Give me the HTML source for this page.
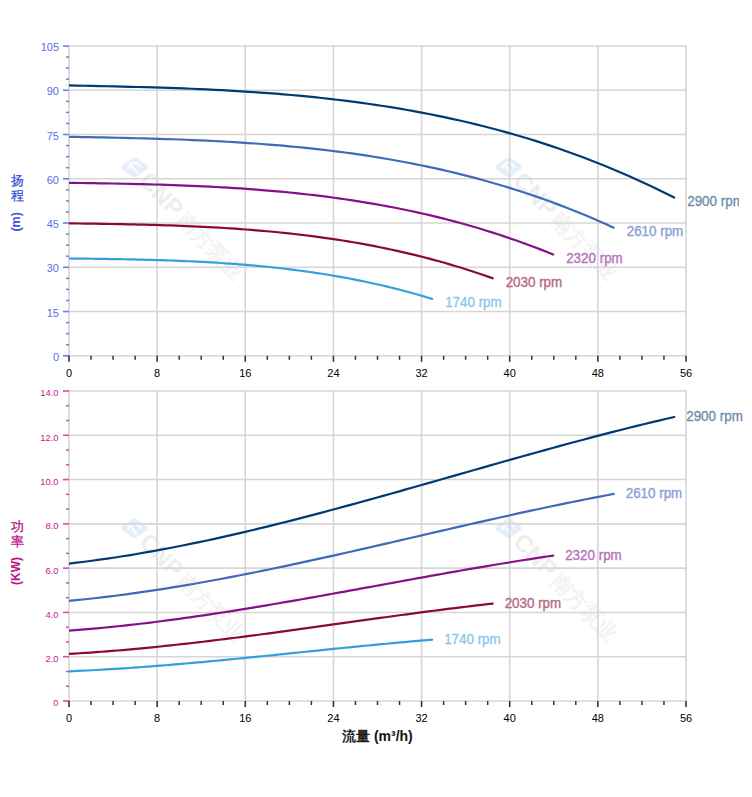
<!DOCTYPE html>
<html><head><meta charset="utf-8"><style>
html,body{margin:0;padding:0;background:#fff;width:752px;height:797px;overflow:hidden}
svg{display:block}
text{font-family:"Liberation Sans",sans-serif}
</style></head><body>
<svg width="752" height="797" viewBox="0 0 752 797">
<defs>
<clipPath id="ct"><rect x="69" y="0" width="683" height="797"/></clipPath>
<clipPath id="cl"><rect x="0" y="0" width="739" height="380"/></clipPath>
</defs>
<rect width="752" height="797" fill="#fff"/>

<path d="M124.5 167.3 L134.5 160.3 L144.5 167.3 L134.5 174.3 Z" fill="#e6eff9" stroke="#e6eff9" stroke-width="6" stroke-linejoin="round"/><path d="M128.5 167.8 A6 6 0 0 1 140.0 166.8 M131.0 165.8 L136.5 172.3" fill="none" stroke="#fbfdff" stroke-width="2.2" stroke-linecap="round"/><g transform="translate(135.0 166.8) rotate(46)"><text x="13" y="8.5" font-size="24" font-weight="bold" fill="#eeeeee">CNP</text><text x="67" y="8" font-size="21" font-weight="bold" fill="#f3f3f3">南方泵业</text></g>
<path d="M498.5 167.3 L508.5 160.3 L518.5 167.3 L508.5 174.3 Z" fill="#e6eff9" stroke="#e6eff9" stroke-width="6" stroke-linejoin="round"/><path d="M502.5 167.8 A6 6 0 0 1 514.0 166.8 M505.0 165.8 L510.5 172.3" fill="none" stroke="#fbfdff" stroke-width="2.2" stroke-linecap="round"/><g transform="translate(509.0 166.8) rotate(46)"><text x="13" y="8.5" font-size="24" font-weight="bold" fill="#eeeeee">CNP</text><text x="67" y="8" font-size="21" font-weight="bold" fill="#f3f3f3">南方泵业</text></g>
<line x1="69.00" y1="45.20" x2="69.00" y2="355.80" stroke="#d6d6d6" stroke-width="1.6"/>
<line x1="157.14" y1="45.20" x2="157.14" y2="355.80" stroke="#d6d6d6" stroke-width="1.6"/>
<line x1="245.29" y1="45.20" x2="245.29" y2="355.80" stroke="#d6d6d6" stroke-width="1.6"/>
<line x1="333.43" y1="45.20" x2="333.43" y2="355.80" stroke="#d6d6d6" stroke-width="1.6"/>
<line x1="421.57" y1="45.20" x2="421.57" y2="355.80" stroke="#d6d6d6" stroke-width="1.6"/>
<line x1="509.71" y1="45.20" x2="509.71" y2="355.80" stroke="#d6d6d6" stroke-width="1.6"/>
<line x1="597.86" y1="45.20" x2="597.86" y2="355.80" stroke="#d6d6d6" stroke-width="1.6"/>
<line x1="686.00" y1="45.20" x2="686.00" y2="355.80" stroke="#d6d6d6" stroke-width="1.6"/>
<line x1="68.20" y1="355.80" x2="686.80" y2="355.80" stroke="#d6d6d6" stroke-width="1.6"/>
<line x1="68.20" y1="311.54" x2="686.80" y2="311.54" stroke="#d6d6d6" stroke-width="1.6"/>
<line x1="68.20" y1="267.29" x2="686.80" y2="267.29" stroke="#d6d6d6" stroke-width="1.6"/>
<line x1="68.20" y1="223.03" x2="686.80" y2="223.03" stroke="#d6d6d6" stroke-width="1.6"/>
<line x1="68.20" y1="178.77" x2="686.80" y2="178.77" stroke="#d6d6d6" stroke-width="1.6"/>
<line x1="68.20" y1="134.51" x2="686.80" y2="134.51" stroke="#d6d6d6" stroke-width="1.6"/>
<line x1="68.20" y1="90.26" x2="686.80" y2="90.26" stroke="#d6d6d6" stroke-width="1.6"/>
<line x1="68.20" y1="46.00" x2="686.80" y2="46.00" stroke="#d6d6d6" stroke-width="1.6"/>
<line x1="63" y1="355.80" x2="69" y2="355.80" stroke="#6a80e6" stroke-width="1.6"/>
<text transform="translate(59 360.96) scale(1 1)" font-size="11" fill="#5b6ee8" text-anchor="end">0</text>
<line x1="66" y1="344.74" x2="69" y2="344.74" stroke="#6a80e6" stroke-width="1.5"/>
<line x1="66" y1="333.67" x2="69" y2="333.67" stroke="#6a80e6" stroke-width="1.5"/>
<line x1="66" y1="322.61" x2="69" y2="322.61" stroke="#6a80e6" stroke-width="1.5"/>
<line x1="63" y1="311.54" x2="69" y2="311.54" stroke="#6a80e6" stroke-width="1.6"/>
<text transform="translate(59 316.70) scale(1 1)" font-size="11" fill="#5b6ee8" text-anchor="end">15</text>
<line x1="66" y1="300.48" x2="69" y2="300.48" stroke="#6a80e6" stroke-width="1.5"/>
<line x1="66" y1="289.41" x2="69" y2="289.41" stroke="#6a80e6" stroke-width="1.5"/>
<line x1="66" y1="278.35" x2="69" y2="278.35" stroke="#6a80e6" stroke-width="1.5"/>
<line x1="63" y1="267.29" x2="69" y2="267.29" stroke="#6a80e6" stroke-width="1.6"/>
<text transform="translate(59 272.45) scale(1 1)" font-size="11" fill="#5b6ee8" text-anchor="end">30</text>
<line x1="66" y1="256.22" x2="69" y2="256.22" stroke="#6a80e6" stroke-width="1.5"/>
<line x1="66" y1="245.16" x2="69" y2="245.16" stroke="#6a80e6" stroke-width="1.5"/>
<line x1="66" y1="234.09" x2="69" y2="234.09" stroke="#6a80e6" stroke-width="1.5"/>
<line x1="63" y1="223.03" x2="69" y2="223.03" stroke="#6a80e6" stroke-width="1.6"/>
<text transform="translate(59 228.19) scale(1 1)" font-size="11" fill="#5b6ee8" text-anchor="end">45</text>
<line x1="66" y1="211.96" x2="69" y2="211.96" stroke="#6a80e6" stroke-width="1.5"/>
<line x1="66" y1="200.90" x2="69" y2="200.90" stroke="#6a80e6" stroke-width="1.5"/>
<line x1="66" y1="189.84" x2="69" y2="189.84" stroke="#6a80e6" stroke-width="1.5"/>
<line x1="63" y1="178.77" x2="69" y2="178.77" stroke="#6a80e6" stroke-width="1.6"/>
<text transform="translate(59 183.93) scale(1 1)" font-size="11" fill="#5b6ee8" text-anchor="end">60</text>
<line x1="66" y1="167.71" x2="69" y2="167.71" stroke="#6a80e6" stroke-width="1.5"/>
<line x1="66" y1="156.64" x2="69" y2="156.64" stroke="#6a80e6" stroke-width="1.5"/>
<line x1="66" y1="145.58" x2="69" y2="145.58" stroke="#6a80e6" stroke-width="1.5"/>
<line x1="63" y1="134.51" x2="69" y2="134.51" stroke="#6a80e6" stroke-width="1.6"/>
<text transform="translate(59 139.67) scale(1 1)" font-size="11" fill="#5b6ee8" text-anchor="end">75</text>
<line x1="66" y1="123.45" x2="69" y2="123.45" stroke="#6a80e6" stroke-width="1.5"/>
<line x1="66" y1="112.39" x2="69" y2="112.39" stroke="#6a80e6" stroke-width="1.5"/>
<line x1="66" y1="101.32" x2="69" y2="101.32" stroke="#6a80e6" stroke-width="1.5"/>
<line x1="63" y1="90.26" x2="69" y2="90.26" stroke="#6a80e6" stroke-width="1.6"/>
<text transform="translate(59 95.42) scale(1 1)" font-size="11" fill="#5b6ee8" text-anchor="end">90</text>
<line x1="66" y1="79.19" x2="69" y2="79.19" stroke="#6a80e6" stroke-width="1.5"/>
<line x1="66" y1="68.13" x2="69" y2="68.13" stroke="#6a80e6" stroke-width="1.5"/>
<line x1="66" y1="57.06" x2="69" y2="57.06" stroke="#6a80e6" stroke-width="1.5"/>
<line x1="63" y1="46.00" x2="69" y2="46.00" stroke="#6a80e6" stroke-width="1.6"/>
<text transform="translate(59 51.16) scale(1 1)" font-size="11" fill="#5b6ee8" text-anchor="end">105</text>
<line x1="69.00" y1="355.80" x2="69.00" y2="361.80" stroke="#333" stroke-width="1.6"/>
<text x="69.00" y="376.80" font-size="11" fill="#000" text-anchor="middle">0</text>
<line x1="91.04" y1="355.80" x2="91.04" y2="359.80" stroke="#333" stroke-width="1.5"/>
<line x1="113.07" y1="355.80" x2="113.07" y2="359.80" stroke="#333" stroke-width="1.5"/>
<line x1="135.11" y1="355.80" x2="135.11" y2="359.80" stroke="#333" stroke-width="1.5"/>
<line x1="157.14" y1="355.80" x2="157.14" y2="361.80" stroke="#333" stroke-width="1.6"/>
<text x="157.14" y="376.80" font-size="11" fill="#000" text-anchor="middle">8</text>
<line x1="179.18" y1="355.80" x2="179.18" y2="359.80" stroke="#333" stroke-width="1.5"/>
<line x1="201.21" y1="355.80" x2="201.21" y2="359.80" stroke="#333" stroke-width="1.5"/>
<line x1="223.25" y1="355.80" x2="223.25" y2="359.80" stroke="#333" stroke-width="1.5"/>
<line x1="245.29" y1="355.80" x2="245.29" y2="361.80" stroke="#333" stroke-width="1.6"/>
<text x="245.29" y="376.80" font-size="11" fill="#000" text-anchor="middle">16</text>
<line x1="267.32" y1="355.80" x2="267.32" y2="359.80" stroke="#333" stroke-width="1.5"/>
<line x1="289.36" y1="355.80" x2="289.36" y2="359.80" stroke="#333" stroke-width="1.5"/>
<line x1="311.39" y1="355.80" x2="311.39" y2="359.80" stroke="#333" stroke-width="1.5"/>
<line x1="333.43" y1="355.80" x2="333.43" y2="361.80" stroke="#333" stroke-width="1.6"/>
<text x="333.43" y="376.80" font-size="11" fill="#000" text-anchor="middle">24</text>
<line x1="355.46" y1="355.80" x2="355.46" y2="359.80" stroke="#333" stroke-width="1.5"/>
<line x1="377.50" y1="355.80" x2="377.50" y2="359.80" stroke="#333" stroke-width="1.5"/>
<line x1="399.54" y1="355.80" x2="399.54" y2="359.80" stroke="#333" stroke-width="1.5"/>
<line x1="421.57" y1="355.80" x2="421.57" y2="361.80" stroke="#333" stroke-width="1.6"/>
<text x="421.57" y="376.80" font-size="11" fill="#000" text-anchor="middle">32</text>
<line x1="443.61" y1="355.80" x2="443.61" y2="359.80" stroke="#333" stroke-width="1.5"/>
<line x1="465.64" y1="355.80" x2="465.64" y2="359.80" stroke="#333" stroke-width="1.5"/>
<line x1="487.68" y1="355.80" x2="487.68" y2="359.80" stroke="#333" stroke-width="1.5"/>
<line x1="509.71" y1="355.80" x2="509.71" y2="361.80" stroke="#333" stroke-width="1.6"/>
<text x="509.71" y="376.80" font-size="11" fill="#000" text-anchor="middle">40</text>
<line x1="531.75" y1="355.80" x2="531.75" y2="359.80" stroke="#333" stroke-width="1.5"/>
<line x1="553.79" y1="355.80" x2="553.79" y2="359.80" stroke="#333" stroke-width="1.5"/>
<line x1="575.82" y1="355.80" x2="575.82" y2="359.80" stroke="#333" stroke-width="1.5"/>
<line x1="597.86" y1="355.80" x2="597.86" y2="361.80" stroke="#333" stroke-width="1.6"/>
<text x="597.86" y="376.80" font-size="11" fill="#000" text-anchor="middle">48</text>
<line x1="619.89" y1="355.80" x2="619.89" y2="359.80" stroke="#333" stroke-width="1.5"/>
<line x1="641.93" y1="355.80" x2="641.93" y2="359.80" stroke="#333" stroke-width="1.5"/>
<line x1="663.96" y1="355.80" x2="663.96" y2="359.80" stroke="#333" stroke-width="1.5"/>
<line x1="686.00" y1="355.80" x2="686.00" y2="361.80" stroke="#333" stroke-width="1.6"/>
<text x="686.00" y="376.80" font-size="11" fill="#000" text-anchor="middle">56</text>
<g clip-path="url(#ct)">
<path d="M69.00 85.47 L76.66 85.62 L84.32 85.77 L91.98 85.92 L99.64 86.08 L107.30 86.25 L114.97 86.42 L122.63 86.60 L130.29 86.79 L137.95 86.98 L145.61 87.20 L153.27 87.42 L160.93 87.66 L168.59 87.91 L176.25 88.18 L183.91 88.47 L191.57 88.77 L199.24 89.10 L206.90 89.45 L214.56 89.81 L222.22 90.21 L229.88 90.62 L237.54 91.07 L245.20 91.54 L252.86 92.04 L260.52 92.57 L268.18 93.13 L275.84 93.72 L283.51 94.34 L291.17 95.00 L298.83 95.69 L306.49 96.42 L314.15 97.19 L321.81 98.00 L329.47 98.84 L337.13 99.73 L344.79 100.66 L352.45 101.63 L360.11 102.65 L367.77 103.72 L375.44 104.83 L383.10 105.99 L390.76 107.20 L398.42 108.46 L406.08 109.77 L413.74 111.14 L421.40 112.56 L429.06 114.03 L436.72 115.57 L444.38 117.16 L452.04 118.80 L459.71 120.51 L467.37 122.28 L475.03 124.12 L482.69 126.01 L490.35 127.98 L498.01 130.00 L505.67 132.10 L513.33 134.26 L520.99 136.49 L528.65 138.80 L536.31 141.17 L543.98 143.62 L551.64 146.15 L559.30 148.75 L566.96 151.42 L574.62 154.18 L582.28 157.01 L589.94 159.92 L597.60 162.92 L605.26 165.99 L612.92 169.15 L620.58 172.40 L628.25 175.73 L635.91 179.15 L643.57 182.66 L651.23 186.26 L658.89 189.95 L666.55 193.73 L674.21 197.60" fill="none" stroke="#003a70" stroke-width="2.2" stroke-linecap="round" stroke-linejoin="round"/>
<path d="M69.00 136.84 L75.89 136.96 L82.79 137.08 L89.68 137.20 L96.58 137.33 L103.47 137.46 L110.37 137.60 L117.26 137.75 L124.16 137.90 L131.05 138.06 L137.95 138.23 L144.84 138.41 L151.74 138.60 L158.63 138.81 L165.53 139.03 L172.42 139.26 L179.32 139.51 L186.21 139.77 L193.11 140.05 L200.00 140.35 L206.90 140.67 L213.79 141.01 L220.69 141.37 L227.58 141.75 L234.48 142.15 L241.37 142.58 L248.26 143.03 L255.16 143.51 L262.05 144.02 L268.95 144.55 L275.84 145.11 L282.74 145.70 L289.63 146.32 L296.53 146.98 L303.42 147.66 L310.32 148.38 L317.21 149.14 L324.11 149.93 L331.00 150.75 L337.90 151.61 L344.79 152.51 L351.69 153.45 L358.58 154.43 L365.48 155.46 L372.37 156.52 L379.27 157.62 L386.16 158.77 L393.06 159.97 L399.95 161.21 L406.85 162.50 L413.74 163.83 L420.64 165.22 L427.53 166.65 L434.42 168.14 L441.32 169.67 L448.21 171.26 L455.11 172.90 L462.00 174.60 L468.90 176.35 L475.79 178.16 L482.69 180.03 L489.58 181.95 L496.48 183.94 L503.37 185.98 L510.27 188.09 L517.16 190.25 L524.06 192.48 L530.95 194.78 L537.85 197.14 L544.74 199.56 L551.64 202.06 L558.53 204.62 L565.43 207.25 L572.32 209.95 L579.22 212.71 L586.11 215.56 L593.01 218.47 L599.90 221.46 L606.79 224.52 L613.69 227.66" fill="none" stroke="#3f6ab8" stroke-width="2.2" stroke-linecap="round" stroke-linejoin="round"/>
<path d="M69.00 182.79 L75.13 182.89 L81.26 182.98 L87.39 183.08 L93.51 183.18 L99.64 183.29 L105.77 183.40 L111.90 183.51 L118.03 183.63 L124.16 183.76 L130.29 183.89 L136.42 184.04 L142.54 184.19 L148.67 184.35 L154.80 184.52 L160.93 184.71 L167.06 184.90 L173.19 185.11 L179.32 185.33 L185.45 185.57 L191.57 185.82 L197.70 186.09 L203.83 186.37 L209.96 186.67 L216.09 186.99 L222.22 187.33 L228.35 187.69 L234.48 188.07 L240.60 188.47 L246.73 188.89 L252.86 189.33 L258.99 189.80 L265.12 190.29 L271.25 190.81 L277.38 191.35 L283.51 191.92 L289.63 192.51 L295.76 193.13 L301.89 193.79 L308.02 194.47 L314.15 195.18 L320.28 195.92 L326.41 196.70 L332.53 197.50 L338.66 198.34 L344.79 199.22 L350.92 200.13 L357.05 201.07 L363.18 202.05 L369.31 203.07 L375.44 204.12 L381.56 205.22 L387.69 206.35 L393.82 207.52 L399.95 208.74 L406.08 209.99 L412.21 211.29 L418.34 212.63 L424.47 214.02 L430.59 215.44 L436.72 216.92 L442.85 218.44 L448.98 220.01 L455.11 221.62 L461.24 223.29 L467.37 225.00 L473.50 226.76 L479.62 228.57 L485.75 230.44 L491.88 232.35 L498.01 234.32 L504.14 236.35 L510.27 238.42 L516.40 240.56 L522.53 242.75 L528.65 244.99 L534.78 247.29 L540.91 249.65 L547.04 252.07 L553.17 254.55" fill="none" stroke="#84108a" stroke-width="2.2" stroke-linecap="round" stroke-linejoin="round"/>
<path d="M69.00 223.34 L74.36 223.41 L79.73 223.49 L85.09 223.56 L90.45 223.64 L95.81 223.72 L101.18 223.80 L106.54 223.89 L111.90 223.98 L117.26 224.08 L122.63 224.18 L127.99 224.29 L133.35 224.41 L138.71 224.53 L144.08 224.67 L149.44 224.81 L154.80 224.96 L160.16 225.12 L165.53 225.29 L170.89 225.47 L176.25 225.66 L181.62 225.86 L186.98 226.08 L192.34 226.31 L197.70 226.56 L203.07 226.82 L208.43 227.09 L213.79 227.38 L219.15 227.68 L224.52 228.01 L229.88 228.35 L235.24 228.70 L240.60 229.08 L245.97 229.48 L251.33 229.89 L256.69 230.33 L262.05 230.78 L267.42 231.26 L272.78 231.76 L278.14 232.28 L283.51 232.82 L288.87 233.39 L294.23 233.99 L299.59 234.60 L304.96 235.25 L310.32 235.92 L315.68 236.61 L321.04 237.33 L326.41 238.09 L331.77 238.86 L337.13 239.67 L342.49 240.51 L347.86 241.38 L353.22 242.28 L358.58 243.20 L363.94 244.17 L369.31 245.16 L374.67 246.19 L380.03 247.25 L385.40 248.34 L390.76 249.47 L396.12 250.63 L401.48 251.83 L406.85 253.07 L412.21 254.34 L417.57 255.65 L422.93 257.00 L428.30 258.39 L433.66 259.82 L439.02 261.29 L444.38 262.79 L449.75 264.34 L455.11 265.93 L460.47 267.57 L465.83 269.24 L471.20 270.96 L476.56 272.72 L481.92 274.53 L487.28 276.38 L492.65 278.28" fill="none" stroke="#8a0a34" stroke-width="2.2" stroke-linecap="round" stroke-linejoin="round"/>
<path d="M69.00 258.48 L73.60 258.54 L78.19 258.59 L82.79 258.64 L87.39 258.70 L91.98 258.76 L96.58 258.82 L101.18 258.89 L105.77 258.95 L110.37 259.03 L114.97 259.10 L119.56 259.18 L124.16 259.27 L128.75 259.36 L133.35 259.46 L137.95 259.56 L142.54 259.67 L147.14 259.79 L151.74 259.91 L156.33 260.05 L160.93 260.19 L165.53 260.34 L170.12 260.50 L174.72 260.67 L179.32 260.85 L183.91 261.04 L188.51 261.24 L193.11 261.45 L197.70 261.67 L202.30 261.91 L206.90 262.16 L211.49 262.42 L216.09 262.70 L220.69 262.99 L225.28 263.30 L229.88 263.61 L234.48 263.95 L239.07 264.30 L243.67 264.67 L248.26 265.05 L252.86 265.45 L257.46 265.87 L262.05 266.30 L266.65 266.76 L271.25 267.23 L275.84 267.72 L280.44 268.23 L285.04 268.76 L289.63 269.32 L294.23 269.89 L298.83 270.48 L303.42 271.10 L308.02 271.73 L312.62 272.39 L317.21 273.08 L321.81 273.78 L326.41 274.51 L331.00 275.27 L335.60 276.05 L340.20 276.85 L344.79 277.68 L349.39 278.53 L353.99 279.42 L358.58 280.32 L363.18 281.26 L367.77 282.22 L372.37 283.22 L376.97 284.23 L381.56 285.28 L386.16 286.36 L390.76 287.47 L395.35 288.61 L399.95 289.78 L404.55 290.98 L409.14 292.21 L413.74 293.47 L418.34 294.76 L422.93 296.09 L427.53 297.45 L432.13 298.85" fill="none" stroke="#33a0dc" stroke-width="2.2" stroke-linecap="round" stroke-linejoin="round"/>
</g>
<g clip-path="url(#cl)">
<text transform="translate(687.21 205.90) scale(1 1.08)" font-size="13.4" fill="#6f8faf" stroke="#6f8faf" stroke-width="0.35">2900 rpm</text>
<text transform="translate(626.69 235.96) scale(1 1.08)" font-size="13.4" fill="#8aa0d6" stroke="#8aa0d6" stroke-width="0.35">2610 rpm</text>
<text transform="translate(566.17 262.85) scale(1 1.08)" font-size="13.4" fill="#b573b9" stroke="#b573b9" stroke-width="0.35">2320 rpm</text>
<text transform="translate(505.65 286.58) scale(1 1.08)" font-size="13.4" fill="#b26a86" stroke="#b26a86" stroke-width="0.35">2030 rpm</text>
<text transform="translate(445.13 307.15) scale(1 1.08)" font-size="13.4" fill="#8ec6ec" stroke="#8ec6ec" stroke-width="0.35">1740 rpm</text>
</g>
<path d="M124.5 528.3 L134.5 521.3 L144.5 528.3 L134.5 535.3 Z" fill="#e6eff9" stroke="#e6eff9" stroke-width="6" stroke-linejoin="round"/><path d="M128.5 528.8 A6 6 0 0 1 140.0 527.8 M131.0 526.8 L136.5 533.3" fill="none" stroke="#fbfdff" stroke-width="2.2" stroke-linecap="round"/><g transform="translate(135.0 527.8) rotate(46)"><text x="13" y="8.5" font-size="24" font-weight="bold" fill="#eeeeee">CNP</text><text x="67" y="8" font-size="21" font-weight="bold" fill="#f3f3f3">南方泵业</text></g>
<path d="M498.5 528.3 L508.5 521.3 L518.5 528.3 L508.5 535.3 Z" fill="#e6eff9" stroke="#e6eff9" stroke-width="6" stroke-linejoin="round"/><path d="M502.5 528.8 A6 6 0 0 1 514.0 527.8 M505.0 526.8 L510.5 533.3" fill="none" stroke="#fbfdff" stroke-width="2.2" stroke-linecap="round"/><g transform="translate(509.0 527.8) rotate(46)"><text x="13" y="8.5" font-size="24" font-weight="bold" fill="#eeeeee">CNP</text><text x="67" y="8" font-size="21" font-weight="bold" fill="#f3f3f3">南方泵业</text></g>
<line x1="69.00" y1="390.20" x2="69.00" y2="701.00" stroke="#d6d6d6" stroke-width="1.6"/>
<line x1="157.14" y1="390.20" x2="157.14" y2="701.00" stroke="#d6d6d6" stroke-width="1.6"/>
<line x1="245.29" y1="390.20" x2="245.29" y2="701.00" stroke="#d6d6d6" stroke-width="1.6"/>
<line x1="333.43" y1="390.20" x2="333.43" y2="701.00" stroke="#d6d6d6" stroke-width="1.6"/>
<line x1="421.57" y1="390.20" x2="421.57" y2="701.00" stroke="#d6d6d6" stroke-width="1.6"/>
<line x1="509.71" y1="390.20" x2="509.71" y2="701.00" stroke="#d6d6d6" stroke-width="1.6"/>
<line x1="597.86" y1="390.20" x2="597.86" y2="701.00" stroke="#d6d6d6" stroke-width="1.6"/>
<line x1="686.00" y1="390.20" x2="686.00" y2="701.00" stroke="#d6d6d6" stroke-width="1.6"/>
<line x1="68.20" y1="701.00" x2="686.80" y2="701.00" stroke="#d6d6d6" stroke-width="1.6"/>
<line x1="68.20" y1="656.71" x2="686.80" y2="656.71" stroke="#d6d6d6" stroke-width="1.6"/>
<line x1="68.20" y1="612.43" x2="686.80" y2="612.43" stroke="#d6d6d6" stroke-width="1.6"/>
<line x1="68.20" y1="568.14" x2="686.80" y2="568.14" stroke="#d6d6d6" stroke-width="1.6"/>
<line x1="68.20" y1="523.86" x2="686.80" y2="523.86" stroke="#d6d6d6" stroke-width="1.6"/>
<line x1="68.20" y1="479.57" x2="686.80" y2="479.57" stroke="#d6d6d6" stroke-width="1.6"/>
<line x1="68.20" y1="435.29" x2="686.80" y2="435.29" stroke="#d6d6d6" stroke-width="1.6"/>
<line x1="68.20" y1="391.00" x2="686.80" y2="391.00" stroke="#d6d6d6" stroke-width="1.6"/>
<line x1="63" y1="701.00" x2="69" y2="701.00" stroke="#dc4aa2" stroke-width="1.6"/>
<text transform="translate(58.5 706.48) scale(1 1.04)" font-size="9.4" fill="#c8188a" text-anchor="end">0</text>
<line x1="66" y1="686.24" x2="69" y2="686.24" stroke="#dc4aa2" stroke-width="1.5"/>
<line x1="66" y1="671.48" x2="69" y2="671.48" stroke="#dc4aa2" stroke-width="1.5"/>
<line x1="63" y1="656.71" x2="69" y2="656.71" stroke="#dc4aa2" stroke-width="1.6"/>
<text transform="translate(58.5 662.20) scale(1 1.04)" font-size="9.4" fill="#c8188a" text-anchor="end">2.0</text>
<line x1="66" y1="641.95" x2="69" y2="641.95" stroke="#dc4aa2" stroke-width="1.5"/>
<line x1="66" y1="627.19" x2="69" y2="627.19" stroke="#dc4aa2" stroke-width="1.5"/>
<line x1="63" y1="612.43" x2="69" y2="612.43" stroke="#dc4aa2" stroke-width="1.6"/>
<text transform="translate(58.5 617.91) scale(1 1.04)" font-size="9.4" fill="#c8188a" text-anchor="end">4.0</text>
<line x1="66" y1="597.67" x2="69" y2="597.67" stroke="#dc4aa2" stroke-width="1.5"/>
<line x1="66" y1="582.90" x2="69" y2="582.90" stroke="#dc4aa2" stroke-width="1.5"/>
<line x1="63" y1="568.14" x2="69" y2="568.14" stroke="#dc4aa2" stroke-width="1.6"/>
<text transform="translate(58.5 573.63) scale(1 1.04)" font-size="9.4" fill="#c8188a" text-anchor="end">6.0</text>
<line x1="66" y1="553.38" x2="69" y2="553.38" stroke="#dc4aa2" stroke-width="1.5"/>
<line x1="66" y1="538.62" x2="69" y2="538.62" stroke="#dc4aa2" stroke-width="1.5"/>
<line x1="63" y1="523.86" x2="69" y2="523.86" stroke="#dc4aa2" stroke-width="1.6"/>
<text transform="translate(58.5 529.34) scale(1 1.04)" font-size="9.4" fill="#c8188a" text-anchor="end">8.0</text>
<line x1="66" y1="509.10" x2="69" y2="509.10" stroke="#dc4aa2" stroke-width="1.5"/>
<line x1="66" y1="494.33" x2="69" y2="494.33" stroke="#dc4aa2" stroke-width="1.5"/>
<line x1="63" y1="479.57" x2="69" y2="479.57" stroke="#dc4aa2" stroke-width="1.6"/>
<text transform="translate(58.5 485.06) scale(1 1.04)" font-size="9.4" fill="#c8188a" text-anchor="end">10.0</text>
<line x1="66" y1="464.81" x2="69" y2="464.81" stroke="#dc4aa2" stroke-width="1.5"/>
<line x1="66" y1="450.05" x2="69" y2="450.05" stroke="#dc4aa2" stroke-width="1.5"/>
<line x1="63" y1="435.29" x2="69" y2="435.29" stroke="#dc4aa2" stroke-width="1.6"/>
<text transform="translate(58.5 440.77) scale(1 1.04)" font-size="9.4" fill="#c8188a" text-anchor="end">12.0</text>
<line x1="66" y1="420.52" x2="69" y2="420.52" stroke="#dc4aa2" stroke-width="1.5"/>
<line x1="66" y1="405.76" x2="69" y2="405.76" stroke="#dc4aa2" stroke-width="1.5"/>
<line x1="63" y1="391.00" x2="69" y2="391.00" stroke="#dc4aa2" stroke-width="1.6"/>
<text transform="translate(58.5 396.48) scale(1 1.04)" font-size="9.4" fill="#c8188a" text-anchor="end">14.0</text>
<line x1="69.00" y1="701.00" x2="69.00" y2="707.00" stroke="#333" stroke-width="1.6"/>
<text x="69.00" y="722.00" font-size="11" fill="#000" text-anchor="middle">0</text>
<line x1="91.04" y1="701.00" x2="91.04" y2="705.00" stroke="#333" stroke-width="1.5"/>
<line x1="113.07" y1="701.00" x2="113.07" y2="705.00" stroke="#333" stroke-width="1.5"/>
<line x1="135.11" y1="701.00" x2="135.11" y2="705.00" stroke="#333" stroke-width="1.5"/>
<line x1="157.14" y1="701.00" x2="157.14" y2="707.00" stroke="#333" stroke-width="1.6"/>
<text x="157.14" y="722.00" font-size="11" fill="#000" text-anchor="middle">8</text>
<line x1="179.18" y1="701.00" x2="179.18" y2="705.00" stroke="#333" stroke-width="1.5"/>
<line x1="201.21" y1="701.00" x2="201.21" y2="705.00" stroke="#333" stroke-width="1.5"/>
<line x1="223.25" y1="701.00" x2="223.25" y2="705.00" stroke="#333" stroke-width="1.5"/>
<line x1="245.29" y1="701.00" x2="245.29" y2="707.00" stroke="#333" stroke-width="1.6"/>
<text x="245.29" y="722.00" font-size="11" fill="#000" text-anchor="middle">16</text>
<line x1="267.32" y1="701.00" x2="267.32" y2="705.00" stroke="#333" stroke-width="1.5"/>
<line x1="289.36" y1="701.00" x2="289.36" y2="705.00" stroke="#333" stroke-width="1.5"/>
<line x1="311.39" y1="701.00" x2="311.39" y2="705.00" stroke="#333" stroke-width="1.5"/>
<line x1="333.43" y1="701.00" x2="333.43" y2="707.00" stroke="#333" stroke-width="1.6"/>
<text x="333.43" y="722.00" font-size="11" fill="#000" text-anchor="middle">24</text>
<line x1="355.46" y1="701.00" x2="355.46" y2="705.00" stroke="#333" stroke-width="1.5"/>
<line x1="377.50" y1="701.00" x2="377.50" y2="705.00" stroke="#333" stroke-width="1.5"/>
<line x1="399.54" y1="701.00" x2="399.54" y2="705.00" stroke="#333" stroke-width="1.5"/>
<line x1="421.57" y1="701.00" x2="421.57" y2="707.00" stroke="#333" stroke-width="1.6"/>
<text x="421.57" y="722.00" font-size="11" fill="#000" text-anchor="middle">32</text>
<line x1="443.61" y1="701.00" x2="443.61" y2="705.00" stroke="#333" stroke-width="1.5"/>
<line x1="465.64" y1="701.00" x2="465.64" y2="705.00" stroke="#333" stroke-width="1.5"/>
<line x1="487.68" y1="701.00" x2="487.68" y2="705.00" stroke="#333" stroke-width="1.5"/>
<line x1="509.71" y1="701.00" x2="509.71" y2="707.00" stroke="#333" stroke-width="1.6"/>
<text x="509.71" y="722.00" font-size="11" fill="#000" text-anchor="middle">40</text>
<line x1="531.75" y1="701.00" x2="531.75" y2="705.00" stroke="#333" stroke-width="1.5"/>
<line x1="553.79" y1="701.00" x2="553.79" y2="705.00" stroke="#333" stroke-width="1.5"/>
<line x1="575.82" y1="701.00" x2="575.82" y2="705.00" stroke="#333" stroke-width="1.5"/>
<line x1="597.86" y1="701.00" x2="597.86" y2="707.00" stroke="#333" stroke-width="1.6"/>
<text x="597.86" y="722.00" font-size="11" fill="#000" text-anchor="middle">48</text>
<line x1="619.89" y1="701.00" x2="619.89" y2="705.00" stroke="#333" stroke-width="1.5"/>
<line x1="641.93" y1="701.00" x2="641.93" y2="705.00" stroke="#333" stroke-width="1.5"/>
<line x1="663.96" y1="701.00" x2="663.96" y2="705.00" stroke="#333" stroke-width="1.5"/>
<line x1="686.00" y1="701.00" x2="686.00" y2="707.00" stroke="#333" stroke-width="1.6"/>
<text x="686.00" y="722.00" font-size="11" fill="#000" text-anchor="middle">56</text>
<g clip-path="url(#ct)">
<path d="M69.00 563.59 L76.66 562.70 L84.32 561.75 L91.98 560.75 L99.64 559.71 L107.30 558.61 L114.97 557.47 L122.63 556.28 L130.29 555.05 L137.95 553.77 L145.61 552.45 L153.27 551.09 L160.93 549.68 L168.59 548.24 L176.25 546.76 L183.91 545.24 L191.57 543.68 L199.24 542.09 L206.90 540.46 L214.56 538.80 L222.22 537.11 L229.88 535.38 L237.54 533.63 L245.20 531.84 L252.86 530.03 L260.52 528.19 L268.18 526.32 L275.84 524.43 L283.51 522.51 L291.17 520.57 L298.83 518.61 L306.49 516.63 L314.15 514.63 L321.81 512.60 L329.47 510.56 L337.13 508.51 L344.79 506.43 L352.45 504.35 L360.11 502.25 L367.77 500.13 L375.44 498.00 L383.10 495.87 L390.76 493.72 L398.42 491.57 L406.08 489.40 L413.74 487.23 L421.40 485.06 L429.06 482.88 L436.72 480.69 L444.38 478.51 L452.04 476.32 L459.71 474.14 L467.37 471.95 L475.03 469.76 L482.69 467.58 L490.35 465.40 L498.01 463.23 L505.67 461.06 L513.33 458.90 L520.99 456.75 L528.65 454.61 L536.31 452.47 L543.98 450.35 L551.64 448.24 L559.30 446.15 L566.96 444.06 L574.62 442.00 L582.28 439.94 L589.94 437.91 L597.60 435.90 L605.26 433.90 L612.92 431.92 L620.58 429.97 L628.25 428.04 L635.91 426.13 L643.57 424.25 L651.23 422.39 L658.89 420.56 L666.55 418.76 L674.21 416.98" fill="none" stroke="#003a70" stroke-width="2.2" stroke-linecap="round" stroke-linejoin="round"/>
<path d="M69.00 600.83 L75.89 600.18 L82.79 599.49 L89.68 598.76 L96.58 598.00 L103.47 597.20 L110.37 596.37 L117.26 595.50 L124.16 594.60 L131.05 593.67 L137.95 592.71 L144.84 591.71 L151.74 590.69 L158.63 589.64 L165.53 588.56 L172.42 587.45 L179.32 586.31 L186.21 585.15 L193.11 583.97 L200.00 582.76 L206.90 581.52 L213.79 580.26 L220.69 578.99 L227.58 577.68 L234.48 576.36 L241.37 575.02 L248.26 573.66 L255.16 572.28 L262.05 570.88 L268.95 569.47 L275.84 568.04 L282.74 566.59 L289.63 565.13 L296.53 563.66 L303.42 562.17 L310.32 560.67 L317.21 559.16 L324.11 557.64 L331.00 556.11 L337.90 554.57 L344.79 553.02 L351.69 551.46 L358.58 549.89 L365.48 548.32 L372.37 546.75 L379.27 545.16 L386.16 543.58 L393.06 541.99 L399.95 540.40 L406.85 538.80 L413.74 537.21 L420.64 535.62 L427.53 534.02 L434.42 532.43 L441.32 530.84 L448.21 529.25 L455.11 527.67 L462.00 526.09 L468.90 524.51 L475.79 522.94 L482.69 521.38 L489.58 519.82 L496.48 518.28 L503.37 516.74 L510.27 515.21 L517.16 513.69 L524.06 512.19 L530.95 510.69 L537.85 509.21 L544.74 507.74 L551.64 506.28 L558.53 504.84 L565.43 503.42 L572.32 502.01 L579.22 500.62 L586.11 499.25 L593.01 497.89 L599.90 496.56 L606.79 495.25 L613.69 493.95" fill="none" stroke="#3f6ab8" stroke-width="2.2" stroke-linecap="round" stroke-linejoin="round"/>
<path d="M69.00 630.65 L75.13 630.19 L81.26 629.70 L87.39 629.19 L93.51 628.66 L99.64 628.10 L105.77 627.51 L111.90 626.90 L118.03 626.27 L124.16 625.62 L130.29 624.94 L136.42 624.24 L142.54 623.53 L148.67 622.79 L154.80 622.03 L160.93 621.25 L167.06 620.45 L173.19 619.64 L179.32 618.80 L185.45 617.95 L191.57 617.09 L197.70 616.20 L203.83 615.31 L209.96 614.39 L216.09 613.46 L222.22 612.52 L228.35 611.57 L234.48 610.60 L240.60 609.62 L246.73 608.62 L252.86 607.62 L258.99 606.60 L265.12 605.58 L271.25 604.54 L277.38 603.50 L283.51 602.44 L289.63 601.38 L295.76 600.31 L301.89 599.24 L308.02 598.15 L314.15 597.07 L320.28 595.97 L326.41 594.87 L332.53 593.77 L338.66 592.66 L344.79 591.55 L350.92 590.44 L357.05 589.32 L363.18 588.20 L369.31 587.08 L375.44 585.97 L381.56 584.85 L387.69 583.73 L393.82 582.61 L399.95 581.49 L406.08 580.37 L412.21 579.26 L418.34 578.15 L424.47 577.05 L430.59 575.94 L436.72 574.85 L442.85 573.75 L448.98 572.67 L455.11 571.59 L461.24 570.51 L467.37 569.45 L473.50 568.39 L479.62 567.34 L485.75 566.30 L491.88 565.27 L498.01 564.24 L504.14 563.23 L510.27 562.23 L516.40 561.24 L522.53 560.27 L528.65 559.30 L534.78 558.35 L540.91 557.42 L547.04 556.49 L553.17 555.58" fill="none" stroke="#84108a" stroke-width="2.2" stroke-linecap="round" stroke-linejoin="round"/>
<path d="M69.00 653.87 L74.36 653.56 L79.73 653.24 L85.09 652.90 L90.45 652.54 L95.81 652.16 L101.18 651.77 L106.54 651.36 L111.90 650.94 L117.26 650.50 L122.63 650.05 L127.99 649.58 L133.35 649.10 L138.71 648.60 L144.08 648.09 L149.44 647.57 L154.80 647.04 L160.16 646.49 L165.53 645.94 L170.89 645.37 L176.25 644.78 L181.62 644.19 L186.98 643.59 L192.34 642.98 L197.70 642.36 L203.07 641.73 L208.43 641.09 L213.79 640.44 L219.15 639.78 L224.52 639.11 L229.88 638.44 L235.24 637.76 L240.60 637.07 L245.97 636.38 L251.33 635.68 L256.69 634.98 L262.05 634.26 L267.42 633.55 L272.78 632.83 L278.14 632.10 L283.51 631.37 L288.87 630.64 L294.23 629.90 L299.59 629.16 L304.96 628.42 L310.32 627.68 L315.68 626.93 L321.04 626.18 L326.41 625.44 L331.77 624.69 L337.13 623.94 L342.49 623.19 L347.86 622.44 L353.22 621.69 L358.58 620.94 L363.94 620.19 L369.31 619.45 L374.67 618.70 L380.03 617.96 L385.40 617.22 L390.76 616.49 L396.12 615.76 L401.48 615.03 L406.85 614.30 L412.21 613.58 L417.57 612.87 L422.93 612.16 L428.30 611.46 L433.66 610.76 L439.02 610.07 L444.38 609.38 L449.75 608.71 L455.11 608.04 L460.47 607.37 L465.83 606.72 L471.20 606.07 L476.56 605.44 L481.92 604.81 L487.28 604.19 L492.65 603.58" fill="none" stroke="#8a0a34" stroke-width="2.2" stroke-linecap="round" stroke-linejoin="round"/>
<path d="M69.00 671.32 L73.60 671.13 L78.19 670.92 L82.79 670.71 L87.39 670.48 L91.98 670.24 L96.58 670.00 L101.18 669.74 L105.77 669.47 L110.37 669.20 L114.97 668.91 L119.56 668.62 L124.16 668.32 L128.75 668.00 L133.35 667.68 L137.95 667.36 L142.54 667.02 L147.14 666.67 L151.74 666.32 L156.33 665.96 L160.93 665.60 L165.53 665.23 L170.12 664.85 L174.72 664.46 L179.32 664.07 L183.91 663.67 L188.51 663.27 L193.11 662.86 L197.70 662.45 L202.30 662.03 L206.90 661.60 L211.49 661.18 L216.09 660.74 L220.69 660.31 L225.28 659.87 L229.88 659.42 L234.48 658.97 L239.07 658.52 L243.67 658.07 L248.26 657.61 L252.86 657.15 L257.46 656.69 L262.05 656.23 L266.65 655.76 L271.25 655.29 L275.84 654.83 L280.44 654.36 L285.04 653.89 L289.63 653.41 L294.23 652.94 L298.83 652.47 L303.42 652.00 L308.02 651.52 L312.62 651.05 L317.21 650.58 L321.81 650.11 L326.41 649.64 L331.00 649.17 L335.60 648.71 L340.20 648.24 L344.79 647.78 L349.39 647.32 L353.99 646.86 L358.58 646.40 L363.18 645.95 L367.77 645.50 L372.37 645.06 L376.97 644.61 L381.56 644.17 L386.16 643.74 L390.76 643.31 L395.35 642.88 L399.95 642.46 L404.55 642.04 L409.14 641.63 L413.74 641.22 L418.34 640.82 L422.93 640.43 L427.53 640.04 L432.13 639.65" fill="none" stroke="#33a0dc" stroke-width="2.2" stroke-linecap="round" stroke-linejoin="round"/>
</g>
<g >
<text transform="translate(686.21 420.98) scale(1 1.08)" font-size="13.4" fill="#6f8faf" stroke="#6f8faf" stroke-width="0.35">2900 rpm</text>
<text transform="translate(625.69 497.95) scale(1 1.08)" font-size="13.4" fill="#8aa0d6" stroke="#8aa0d6" stroke-width="0.35">2610 rpm</text>
<text transform="translate(565.17 559.58) scale(1 1.08)" font-size="13.4" fill="#b573b9" stroke="#b573b9" stroke-width="0.35">2320 rpm</text>
<text transform="translate(504.65 607.58) scale(1 1.08)" font-size="13.4" fill="#b26a86" stroke="#b26a86" stroke-width="0.35">2030 rpm</text>
<text transform="translate(444.13 643.65) scale(1 1.08)" font-size="13.4" fill="#8ec6ec" stroke="#8ec6ec" stroke-width="0.35">1740 rpm</text>
</g>
<g fill="#3a55d8"><text x="11" y="185.2" font-size="13" stroke="#3a55d8" stroke-width="0.3">扬</text><text x="11" y="200.2" font-size="13" stroke="#3a55d8" stroke-width="0.3">程</text><text transform="translate(20.2 231.6) rotate(-90)" font-size="12.5" font-weight="bold">(m)</text></g>
<g fill="#c01385"><text x="11" y="530.5" font-size="13" stroke="#c01385" stroke-width="0.3">功</text><text x="11" y="545.5" font-size="13" stroke="#c01385" stroke-width="0.3">率</text><text transform="translate(20.2 585) rotate(-90)" font-size="12" font-weight="bold">(KW)</text></g>
<text x="342" y="741.4" font-size="14" font-weight="bold" fill="#111"><tspan font-weight="normal" stroke="#111" stroke-width="0.45">流量</tspan> (m³/h)</text>
</svg></body></html>
